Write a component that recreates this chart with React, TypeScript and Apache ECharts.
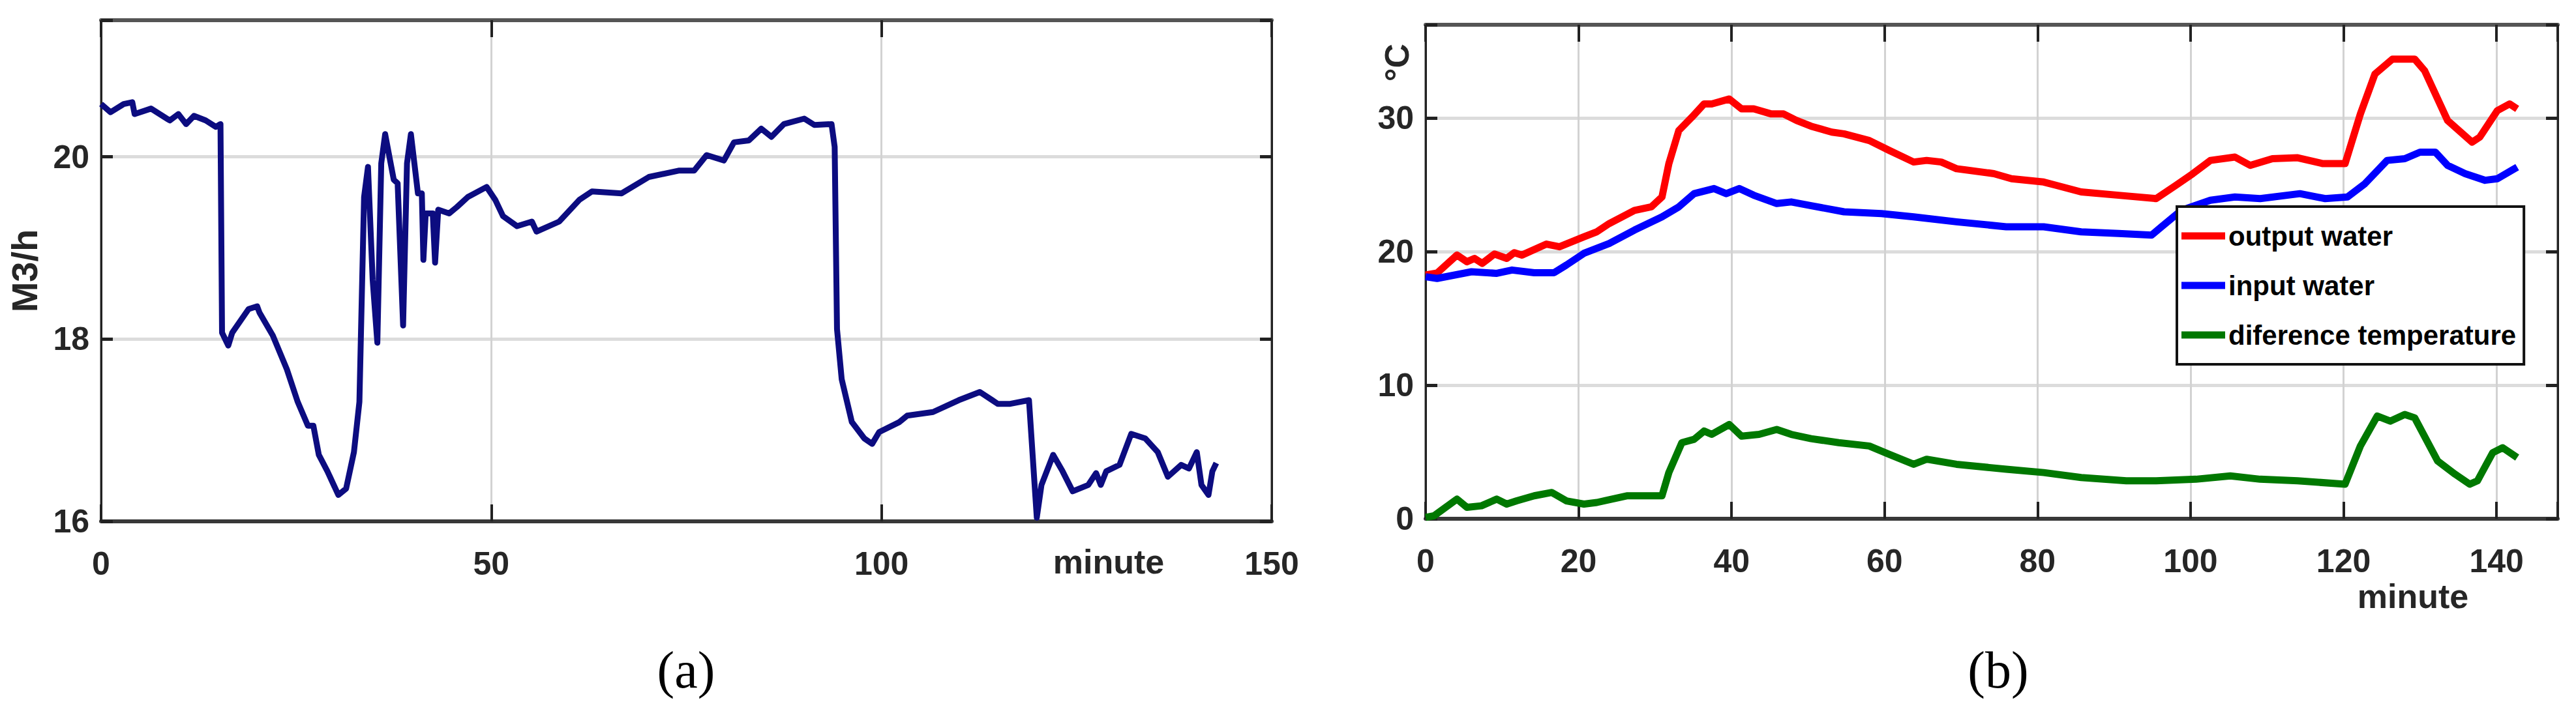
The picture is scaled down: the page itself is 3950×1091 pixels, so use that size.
import React, { useEffect, useRef } from "react";
import * as echarts from "echarts";

// ---- (a) water flow, M3/h ----
const flowTime = [0, 1.2, 2.9, 4.0, 4.3, 6.4, 8.8, 9.9, 10.9, 11.9, 13.4, 14.7, 15.3, 15.5, 16.3, 16.8, 18.9, 20.0, 20.3, 22.0, 23.8, 25.2, 26.5, 27.2, 27.9, 29.0, 30.4, 31.4, 32.4, 33.1, 33.7, 34.2, 34.8, 35.4, 35.9, 36.4, 37.5, 38.0, 38.7, 39.2, 39.7, 40.6, 41.1, 41.3, 41.6, 42.5, 42.8, 43.2, 44.6, 45.6, 47.0, 49.4, 50.5, 51.5, 53.3, 55.2, 55.8, 58.7, 61.3, 62.9, 66.7, 70.2, 74.1, 76.0, 77.6, 79.8, 81.1, 83.0, 84.6, 85.9, 87.5, 90.1, 91.4, 93.6, 94.0, 94.3, 94.9, 96.2, 97.8, 98.8, 99.7, 102.3, 103.3, 106.6, 109.9, 112.6, 114.9, 116.5, 118.9, 119.9, 120.5, 122.0, 123.2, 124.5, 126.5, 127.5, 128.1, 128.8, 130.5, 132.0, 133.8, 135.4, 136.7, 138.4, 139.4, 140.4, 141.0, 141.9, 142.4, 142.9];
const flowValue = [20.58, 20.49, 20.58, 20.6, 20.47, 20.53, 20.4, 20.47, 20.36, 20.45, 20.4, 20.33, 20.36, 18.07, 17.93, 18.07, 18.33, 18.36, 18.29, 18.04, 17.67, 17.31, 17.05, 17.05, 16.73, 16.55, 16.29, 16.36, 16.76, 17.31, 19.56, 19.89, 18.65, 17.96, 19.93, 20.25, 19.75, 19.71, 18.15, 19.93, 20.25, 19.6, 19.6, 18.87, 19.38, 19.38, 18.84, 19.42, 19.38, 19.45, 19.56, 19.67, 19.53, 19.35, 19.24, 19.29, 19.18, 19.29, 19.53, 19.62, 19.6, 19.78, 19.85, 19.85, 20.02, 19.96, 20.16, 20.18, 20.31, 20.22, 20.36, 20.42, 20.35, 20.36, 20.11, 18.11, 17.56, 17.09, 16.91, 16.85, 16.98, 17.09, 17.16, 17.2, 17.33, 17.42, 17.29, 17.29, 17.33, 16.04, 16.4, 16.73, 16.55, 16.33, 16.4, 16.53, 16.4, 16.55, 16.62, 16.96, 16.91, 16.76, 16.49, 16.62, 16.58, 16.76, 16.4, 16.29, 16.55, 16.64];

// ---- (b) temperatures, °C ----
const outputTime = [0, 1.5, 4.1, 5.4, 6.4, 7.4, 9, 10.6, 11.6, 12.6, 15.8, 17.5, 20.7, 22.4, 24, 27.3, 29.5, 30.9, 31.8, 33.1, 34.8, 36.4, 37.4, 39.7, 41.3, 42.9, 45.2, 46.8, 48.5, 50.4, 53.1, 54.7, 58, 60.6, 63.8, 65.5, 67.4, 69.4, 74.3, 76.6, 80.8, 82.4, 85.7, 90.6, 95.5, 98.1, 100.3, 102.6, 105.8, 107.8, 110.7, 114, 117.3, 120.2, 122.2, 124.1, 126.4, 129.3, 130.6, 133.6, 136.8, 137.8, 140.1, 141.7, 142.7];
const outputValue = [18.26, 18.4, 19.75, 19.25, 19.5, 19.13, 19.83, 19.5, 19.93, 19.75, 20.57, 20.37, 21.12, 21.5, 22.11, 23.1, 23.36, 24.1, 26.6, 29.08, 30.07, 31.07, 31.07, 31.44, 30.7, 30.7, 30.32, 30.32, 29.83, 29.4, 28.96, 28.83, 28.33, 27.59, 26.72, 26.84, 26.72, 26.22, 25.85, 25.47, 25.22, 24.98, 24.48, 24.23, 23.98, 24.98, 25.85, 26.84, 27.09, 26.47, 26.97, 27.04, 26.6, 26.6, 30.32, 33.31, 34.43, 34.43, 33.56, 29.83, 28.21, 28.58, 30.57, 31.07, 30.7];

const inputTime = [0, 1.5, 6, 9.3, 11.3, 14.2, 16.8, 18.4, 20.7, 24, 27.3, 30.9, 33.1, 35.1, 37.7, 39.3, 41, 42.9, 45.9, 47.8, 50.4, 54.7, 59.6, 63.8, 69.4, 75.9, 80.8, 85.7, 90.6, 94.9, 96.2, 98.8, 102.6, 105.8, 109.1, 114.3, 117.6, 120.5, 122.8, 125.7, 128, 130, 132, 133.6, 135.9, 138.5, 140.1, 142.7];
const inputValue = [18.13, 18.0, 18.5, 18.38, 18.63, 18.43, 18.43, 19.0, 19.88, 20.62, 21.62, 22.61, 23.36, 24.35, 24.73, 24.35, 24.73, 24.23, 23.61, 23.73, 23.45, 22.99, 22.86, 22.61, 22.24, 21.87, 21.87, 21.49, 21.37, 21.24, 21.87, 23.1, 23.86, 24.1, 23.98, 24.35, 23.98, 24.1, 25.1, 26.84, 26.97, 27.46, 27.46, 26.47, 25.85, 25.35, 25.47, 26.34];

const diffTime = [0, 1.1, 4.1, 5.4, 7.3, 9.3, 10.6, 11.9, 14.2, 16.5, 18.4, 20.7, 22.4, 26.3, 30.9, 31.8, 33.5, 35.1, 36.4, 37.4, 39.7, 41.3, 43.6, 45.9, 47.8, 50.4, 54, 58, 60.6, 63.8, 65.5, 69.4, 75.9, 80.8, 85.7, 91.6, 95.5, 100.7, 105.2, 109.1, 114, 120.2, 122.2, 124.4, 126.1, 128, 129.3, 132.3, 134.6, 136.5, 137.5, 139.5, 140.8, 142.7];
const diffValue = [0.1, 0.22, 1.47, 0.85, 0.97, 1.47, 1.1, 1.34, 1.72, 1.97, 1.34, 1.1, 1.22, 1.72, 1.72, 3.46, 5.7, 5.95, 6.57, 6.32, 7.06, 6.19, 6.32, 6.69, 6.32, 6.0, 5.7, 5.45, 4.83, 4.08, 4.46, 4.08, 3.71, 3.46, 3.09, 2.84, 2.84, 2.96, 3.21, 2.96, 2.84, 2.59, 5.45, 7.69, 7.31, 7.81, 7.56, 4.33, 3.33, 2.59, 2.84, 4.95, 5.32, 4.58];

const seriesNames = ["output water", "input water", "diference temperature"];
const flowTicks = { min: 16, max: 21.5, step: 2 };
const flowX = { min: 0, max: 150, step: 50 };
const tempTicks = { min: 0, max: 37, step: 10 };
const tempX = { min: 0, max: 148, step: 20 };

const pairs = (t: number[], v: number[]) => t.map((x, i) => [x, v[i]]);
const stepFmt = (step: number) => (v: number) =>
  Math.abs(v / step - Math.round(v / step)) < 1e-9 ? String(v) : "";

const SANS = "Liberation Sans, Arial, sans-serif";
const LABEL = { fontSize: 50, fontWeight: "bold", color: "#262626", fontFamily: SANS };

function mainX(grid: number, r: any) {
  return {
    type: "value", gridIndex: grid, position: "bottom", min: r.min, max: r.max, interval: r.step,
    axisLine: { show: true, onZero: false, lineStyle: { color: "#383838", width: 6 } },
    axisTick: { show: true, inside: true, length: 26, lineStyle: { color: "#222", width: 4 } },
    axisLabel: { ...LABEL, margin: 40, formatter: stepFmt(r.step) },
    splitLine: { show: true, lineStyle: { color: "#d2d2d2", width: 3 } },
  };
}
function topX(grid: number, r: any) {
  return {
    type: "value", gridIndex: grid, position: "top", min: r.min, max: r.max, interval: r.step,
    axisLine: { show: true, onZero: false, lineStyle: { color: "#555", width: 6 } },
    axisTick: { show: true, inside: true, length: 26, lineStyle: { color: "#222", width: 4 } },
    axisLabel: { show: false }, splitLine: { show: false },
  };
}
function mainY(grid: number, r: any, extra: any) {
  return {
    type: "value", gridIndex: grid, position: "left", min: r.min, max: r.max, interval: r.step,
    axisLine: { show: true, onZero: false, lineStyle: { color: "#222", width: 3 } },
    axisTick: { show: true, inside: true, length: 18, lineStyle: { color: "#222", width: 5 } },
    axisLabel: { ...LABEL, margin: 18, formatter: stepFmt(r.step) },
    splitLine: { show: true, lineStyle: { color: "#dcdcdc", width: 5 } },
    ...extra,
  };
}
function rightY(grid: number, r: any) {
  return {
    type: "value", gridIndex: grid, position: "right", min: r.min, max: r.max, interval: r.step,
    axisLine: { show: true, onZero: false, lineStyle: { color: "#222", width: 3 } },
    axisTick: { show: true, inside: true, length: 18, lineStyle: { color: "#222", width: 5 } },
    axisLabel: { show: false }, splitLine: { show: false },
  };
}

export default function App() {
  const ref = useRef<HTMLDivElement>(null);
  useEffect(() => {
    document.body.style.margin = "0";
    const chart = echarts.init(ref.current!, null, { renderer: "svg" });
    const line = (name: string, data: any, color: string, width: number, xi: number, yi: number) => ({
      name, type: "line", data, xAxisIndex: xi, yAxisIndex: yi, showSymbol: false, symbol: "none",
      lineStyle: { color, width, join: "round" }, itemStyle: { color }, z: 3,
    });
    chart.setOption({
      animation: false,
      backgroundColor: "#ffffff",
      grid: [
        { left: 155, top: 31, width: 1795, height: 769, show: true, borderColor: "#333", borderWidth: 3, backgroundColor: "#fff" },
        { left: 2186, top: 38, width: 1736, height: 758, show: true, borderColor: "#333", borderWidth: 3, backgroundColor: "#fff" },
      ],
      xAxis: [mainX(0, flowX), topX(0, flowX), mainX(1, tempX), topX(1, tempX)],
      yAxis: [
        mainY(0, flowTicks, {
          name: "M3/h", nameLocation: "middle", nameGap: 90, nameRotate: 90,
          nameTextStyle: { fontSize: 56, fontWeight: "bold", color: "#262626", fontFamily: SANS, lineHeight: 56 },
        }),
        rightY(0, flowTicks),
        mainY(1, tempTicks, {}),
        rightY(1, tempTicks),
      ],
      legend: {
        data: seriesNames, orient: "vertical", left: 3338, top: 317,
        padding: [24, 12, 24, 7], itemGap: 34, itemWidth: 67, itemHeight: 11, icon: "rect",
        borderColor: "#111", borderWidth: 4, backgroundColor: "#fff", align: "left",
        textStyle: { fontSize: 42, fontWeight: "bold", color: "#000", fontFamily: SANS },
        selectedMode: false,
      },
      series: [
        line("flow", pairs(flowTime, flowValue), "#0c0c80", 9, 0, 0),
        line(seriesNames[0], pairs(outputTime, outputValue), "#ff0000", 11, 2, 2),
        line(seriesNames[1], pairs(inputTime, inputValue), "#0000ff", 11, 2, 2),
        line(seriesNames[2], pairs(diffTime, diffValue), "#007800", 11, 2, 2),
      ],
      graphic: [
        { type: "text", x: 1700, y: 862, style: { text: "minute", fontSize: 52, fontWeight: "bold", fill: "#262626", fontFamily: SANS, align: "center", verticalAlign: "middle" } },
        { type: "text", x: 3700, y: 915, style: { text: "minute", fontSize: 52, fontWeight: "bold", fill: "#262626", fontFamily: SANS, align: "center", verticalAlign: "middle" } },
        { type: "text", x: 2142, y: 96, rotation: Math.PI / 2, style: { text: "°C", fontSize: 52, fontWeight: "bold", fill: "#262626", fontFamily: SANS, align: "center", verticalAlign: "middle" } },
        { type: "text", x: 1052, y: 1028, style: { text: "(a)", fontSize: 80, fill: "#000", fontFamily: "Liberation Serif, DejaVu Serif, serif", align: "center", verticalAlign: "middle" } },
        { type: "text", x: 3064, y: 1028, style: { text: "(b)", fontSize: 80, fill: "#000", fontFamily: "Liberation Serif, DejaVu Serif, serif", align: "center", verticalAlign: "middle" } },
      ],
    });
    return () => chart.dispose();
  }, []);
  return (
    <div
      ref={ref}
      style={{ position: "absolute", left: 0, top: 0, width: 3950, height: 1091, background: "#fff" }}
    />
  );
}
